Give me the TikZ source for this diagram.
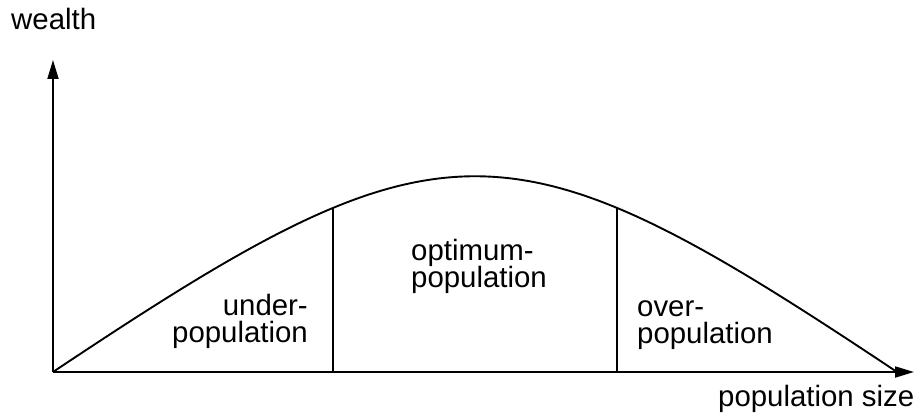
\documentclass[tikz,border=0pt]{standalone}
\usepackage{fontspec}
\setmainfont{Liberation Sans}
\usetikzlibrary{arrows.meta,intersections}
\tikzset{
  axis/.style={line width=1.9pt,-{Triangle[length=19pt,width=11pt]}},
  curveline/.style={line width=1.9pt},
  divider/.style={line width=1.7pt},
  lbl/.style={inner sep=0pt,font=\fontsize{29.5}{27.5}\selectfont},
}
\begin{document}
\begin{tikzpicture}[x=1bp,y=-1bp]
\useasboundingbox (0,0) rectangle (915,414);
\coordinate (O) at (53,372);
\coordinate (Ytip) at (53,60);
\coordinate (Xtip) at (914,372);
\coordinate (E) at (897,372);
\draw[axis] (O) -- (Ytip);
\draw[axis] (O) -- (Xtip);
\draw[curveline, name path=curve] (O) .. controls (444,111) and (506,111) .. (E);
\coordinate (L0) at (333,372);
\coordinate (R0) at (617,372);
\path[name path=lv] (L0) -- (333,100);
\path[name path=rv] (R0) -- (617,100);
\path[name intersections={of=curve and lv,by=L1}];
\path[name intersections={of=curve and rv,by=R1}];
\draw[divider] (L0) -- (L1);
\draw[divider] (R0) -- (R1);
\node[lbl,anchor=base west] (wealth) at (11,29) {wealth};
\node[lbl,anchor=base west] (psize) at (718,406) {population size};
\node[lbl,anchor=north east,align=right] (under) at (308,294) {under-\\population};
\node[lbl,anchor=north west,align=left] (optimum) at (411,239) {optimum-\\population};
\node[lbl,anchor=north west,align=left] (over) at (637,300) {over-\\population};
\end{tikzpicture}
\end{document}
